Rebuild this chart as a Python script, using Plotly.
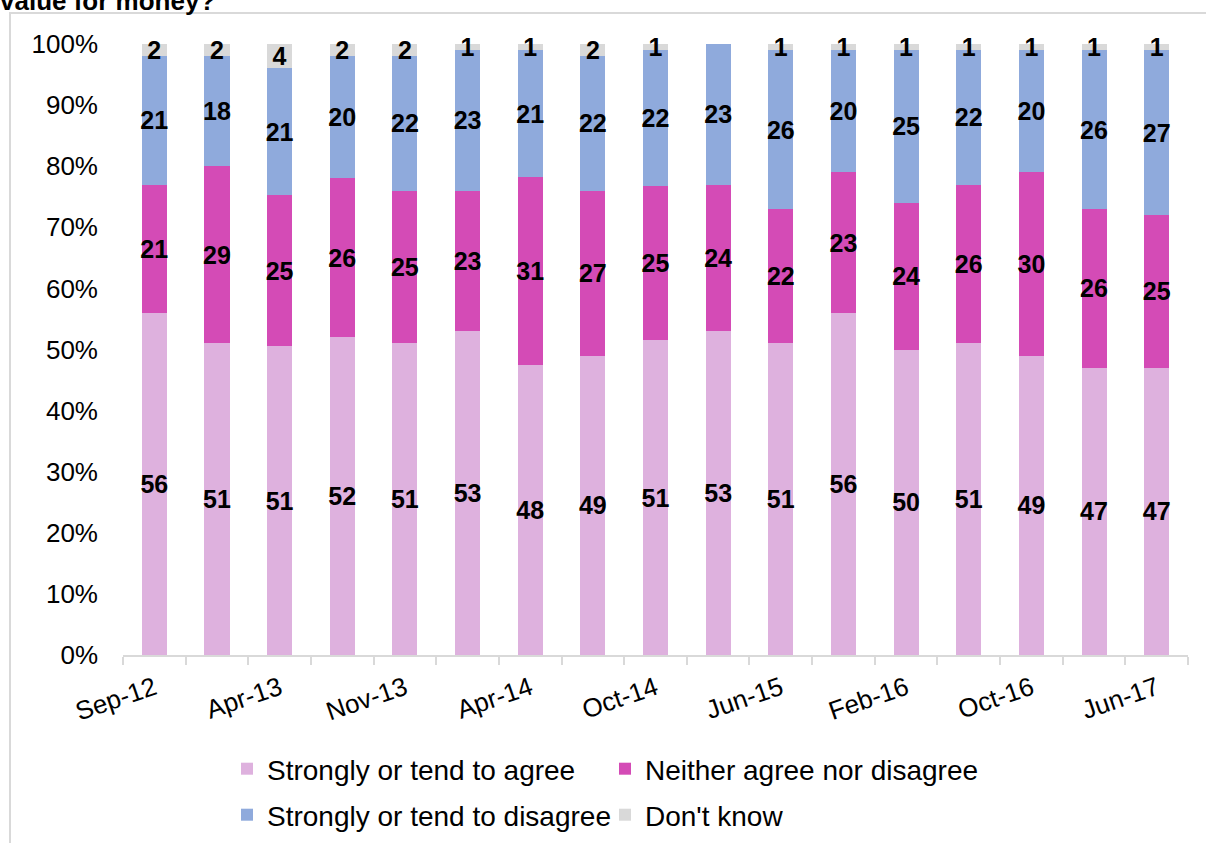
import plotly.graph_objects as go

# Survey waves (only every other wave carries a date label on the axis)
waves = ["Sep-12", "", "Apr-13", "", "Nov-13", "", "Apr-14", "", "Oct-14",
         "", "Jun-15", "", "Feb-16", "", "Oct-16", "", "Jun-17"]

agree = [56, 51, 51, 52, 51, 53, 48, 49, 51, 53, 51, 56, 50, 51, 49, 47, 47]
neither = [21, 29, 25, 26, 25, 23, 31, 27, 25, 24, 22, 23, 24, 26, 30, 26, 25]
disagree = [21, 18, 21, 20, 22, 23, 21, 22, 22, 23, 26, 20, 25, 22, 20, 26, 27]
dont_know = [2, 2, 4, 2, 2, 1, 1, 2, 1, 0, 1, 1, 1, 1, 1, 1, 1]

y_ticks = list(range(0, 101, 10))
y_tick_labels = [f"{v}%" for v in y_ticks]

series = [
    ("Strongly or tend to agree", agree, "#DEB1DE", "legend"),
    ("Neither agree nor disagree", neither, "#D44BB6", "legend"),
    ("Strongly or tend to disagree", disagree, "#8FAADC", "legend2"),
    ("Don't know", dont_know, "#D9D9D9", "legend2"),
]

FONT = "Arial, Liberation Sans, sans-serif"
x = list(range(len(waves)))

fig = go.Figure()
for name, vals, color, leg in series:
    fig.add_trace(go.Bar(
        x=x, y=vals, name=name, legend=leg,
        marker=dict(color=color, line=dict(width=0)),
        text=[str(v) if v else "" for v in vals],
        textposition="inside", insidetextanchor="middle", textangle=0,
        textfont=dict(family=FONT, size=25, color="black", weight="bold"),
        cliponaxis=False,
    ))

tick_idx = [i for i, w in enumerate(waves) if w]

fig.update_layout(
    width=1206, height=843,
    margin=dict(l=123, r=18, t=44, b=188, autoexpand=False),
    barmode="stack", barnorm="percent", bargap=0.6,
    paper_bgcolor="white", plot_bgcolor="white",
    font=dict(family=FONT, color="black"),
    uniformtext=dict(minsize=25, mode="show"),
    xaxis=dict(
        range=[-0.5, len(waves) - 0.5], automargin=False,
        tickmode="array", tickvals=tick_idx, ticktext=[waves[i] for i in tick_idx],
        tickangle=-19, ticks="", tickfont=dict(size=26),
        showline=True, linecolor="#D9D9D9", linewidth=2,
        showgrid=False, zeroline=False,
        minor=dict(tickmode="array", tickvals=[i - 0.5 for i in range(len(waves) + 1)],
                   ticks="outside", ticklen=8, tickwidth=2, tickcolor="#D9D9D9",
                   showgrid=False),
        ticklabelstandoff=6,
    ),
    yaxis=dict(
        range=[0, 100], tickmode="array", tickvals=y_ticks, ticktext=y_tick_labels,
        tickfont=dict(size=26), automargin=False,
        showline=False, showgrid=False, zeroline=False, ticks="",
        ticklabelstandoff=24,
    ),
    legend=dict(orientation="h", x=(227 - 123) / 1065, xanchor="left",
                y=(655 - 744) / 611, yanchor="top", entrywidth=333,
                font=dict(size=28), bgcolor="rgba(0,0,0,0)", traceorder="normal"),
    legend2=dict(orientation="h", x=(227 - 123) / 1065, xanchor="left",
                 y=(655 - 790) / 611, yanchor="top", entrywidth=333,
                 font=dict(size=28), bgcolor="rgba(0,0,0,0)", traceorder="normal"),
    showlegend=True,
)

# Chart-area frame
fig.add_shape(type="rect", xref="paper", yref="paper",
              x0=(10 - 123) / 1065, x1=1.2, y0=-0.6, y1=(655 - 13) / 611,
              line=dict(color="#D9D9D9", width=2), fillcolor="rgba(0,0,0,0)",
              layer="below")

# Last line of the question title
fig.add_annotation(text="<b>value for money?</b>", xref="paper", yref="paper",
                   x=(-2 - 123) / 1065, y=(655 - 18) / 611,
                   xanchor="left", yanchor="bottom", showarrow=False,
                   font=dict(size=26, color="black", family=FONT))

fig.write_html("out.html")
